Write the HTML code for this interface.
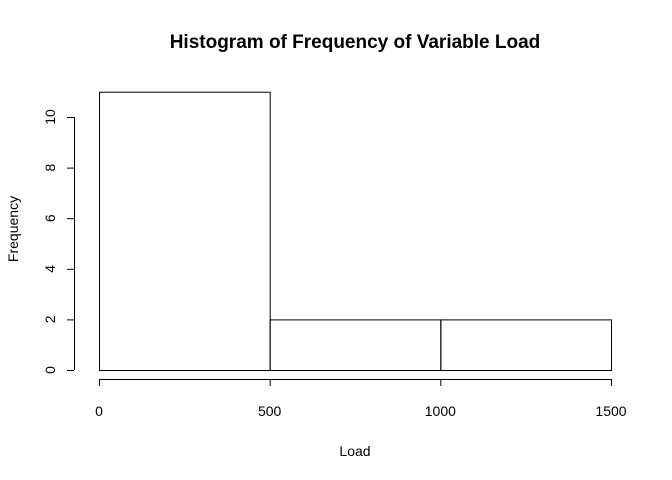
<!DOCTYPE html>
<html><head><meta charset="utf-8"><style>
body{margin:0;background:#fff}
svg{display:block;font-family:"Liberation Sans",Arial,sans-serif}
</style></head><body>
<svg id="chart" width="672" height="480">
<text x="355" y="48" text-anchor="middle" font-size="19" font-weight="bold">Histogram of Frequency of Variable Load</text>
<text x="355" y="456" text-anchor="middle" font-size="14">Load</text>
<text x="18" y="229" text-anchor="middle" font-size="14" transform="rotate(-90 18 229)">Frequency</text>
<g id="bars"></g><g id="xaxis"></g><g id="yaxis"></g>
</svg>
<script>
const binStarts=[0,500,1000];
const binEnds=[500,1000,1500];
const counts=[11,2,2];
const xTicks=[0,500,1000,1500];
const yTicks=[0,2,4,6,8,10];
const NS="http://www.w3.org/2000/svg";
const X=v=>99+v*(611-99)/1500;
const Y=v=>370-v*(370-117)/10;
function mk(t,a,p){const e=document.createElementNS(NS,t);for(const k in a)e.setAttribute(k,a[k]);p.appendChild(e);return e;}
const bars=document.getElementById('bars');
counts.forEach((c,i)=>{
 const r=mk('rect',{x:X(binStarts[i])+0.5,y:Y(c)+0.5,width:X(binEnds[i])-X(binStarts[i]),height:Y(0)-Y(c),fill:'none',stroke:'#000','stroke-width':1},bars);
 
 
});
const xa=document.getElementById('xaxis');
const xl=mk('line',{x1:X(xTicks[0]),x2:X(xTicks[xTicks.length-1]),y1:379.5,y2:379.5,stroke:'#000'},xa);


xTicks.forEach(v=>{
 mk('line',{x1:X(v)+0.5,x2:X(v)+0.5,y1:379,y2:386,stroke:'#000'},xa);
 const t=mk('text',{x:X(v),y:416,'text-anchor':'middle','font-size':14},xa);t.textContent=v;
 
 
});
const ya=document.getElementById('yaxis');
const yl=mk('line',{x1:74.5,x2:74.5,y1:Y(yTicks[0]),y2:Y(yTicks[yTicks.length-1]),stroke:'#000'},ya);


yTicks.forEach(v=>{
 mk('line',{x1:67,x2:74,y1:Y(v)+0.5,y2:Y(v)+0.5,stroke:'#000'},ya);
 const t=mk('text',{x:55,y:Y(v),'text-anchor':'middle','font-size':14,transform:`rotate(-90 55 ${Y(v)})`},ya);t.textContent=v;
 
 
});
</script>
</body></html>
